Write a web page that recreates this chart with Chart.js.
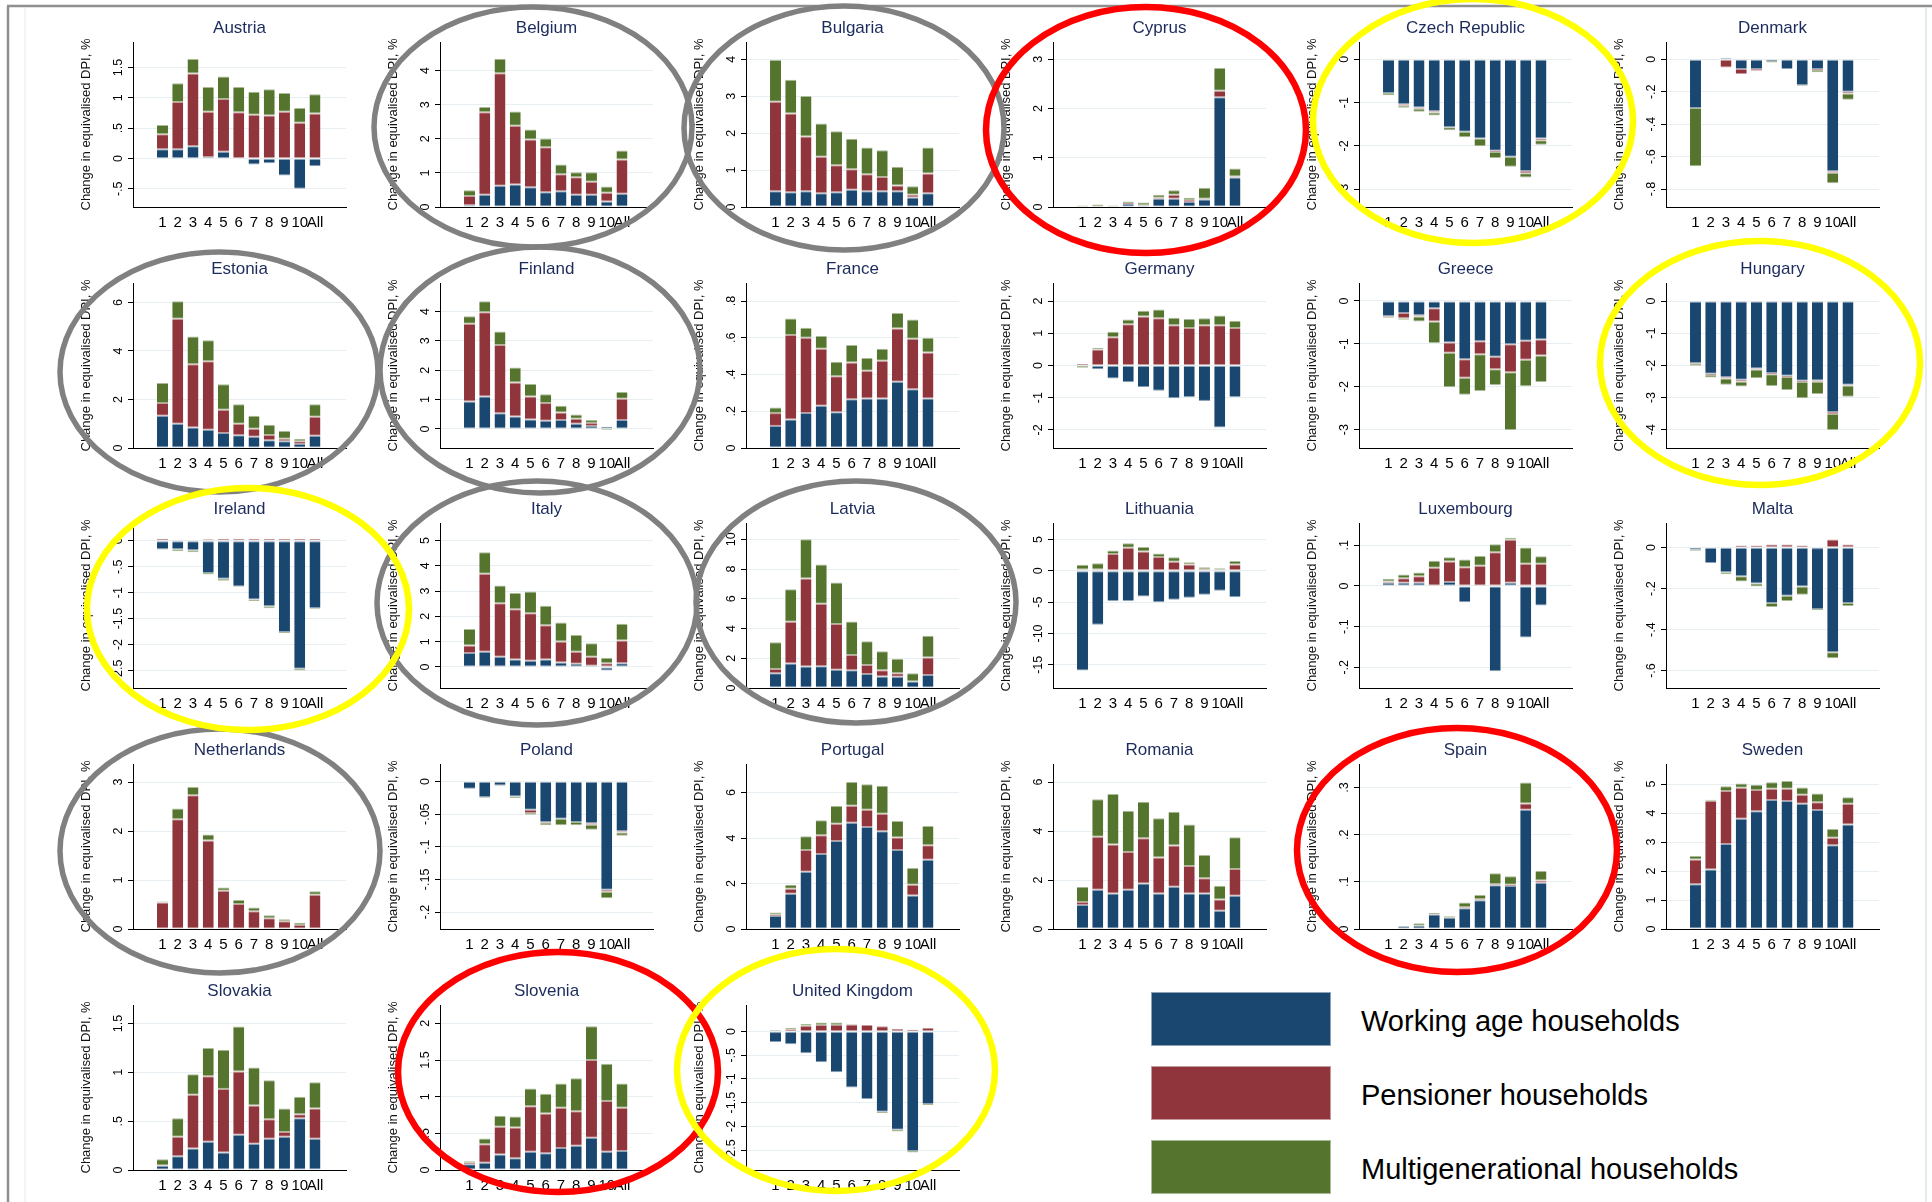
<!DOCTYPE html>
<html>
<head>
<meta charset="utf-8">
<script src="https://cdn.jsdelivr.net/npm/chart.js@4.4.1/dist/chart.umd.min.js"></script>
<style>
  html, body { margin: 0; padding: 0; background: #fff; }
  #page { position: relative; width: 1932px; height: 1202px; overflow: hidden; background: #fff; }
  #page canvas { position: absolute; }
  #marks { position: absolute; left: 0; top: 0; pointer-events: none; }
  .key { position: absolute; left: 1151px; width: 180px; height: 54px; box-sizing: border-box; }
  .keytext { position: absolute; left: 1361px; font: 29px 'Liberation Sans', Arial, sans-serif; color: #000; line-height: 54px; white-space: nowrap; }
</style>
</head>
<body>
<div id="page"></div>
<script>
const countries = ['Austria', 'Belgium', 'Bulgaria', 'Cyprus', 'Czech Republic', 'Denmark',
  'Estonia', 'Finland', 'France', 'Germany', 'Greece', 'Hungary',
  'Ireland', 'Italy', 'Latvia', 'Lithuania', 'Luxembourg', 'Malta',
  'Netherlands', 'Poland', 'Portugal', 'Romania', 'Spain', 'Sweden',
  'Slovakia', 'Slovenia', 'United Kingdom'];
const deciles = ['1', '2', '3', '4', '5', '6', '7', '8', '9', '10', 'All'];
const seriesNames = ['Working age households', 'Pensioner households', 'Multigenerational households'];
const yTitle = 'Change in equivalised DPI, %';

// one row per country, one value per decile
const working = [
  [0.15, 0.15, 0.2, 0.02, 0.11, 0.0, -0.1, -0.08, -0.28, -0.5, -0.13],
  [0.05, 0.36, 0.62, 0.66, 0.58, 0.43, 0.46, 0.36, 0.36, 0.16, 0.39],
  [0.43, 0.4, 0.43, 0.37, 0.4, 0.47, 0.43, 0.43, 0.43, 0.26, 0.37],
  [0.01, 0.01, 0.01, 0.06, 0.03, 0.17, 0.17, 0.1, 0.15, 2.23, 0.6],
  [-0.78, -1.04, -1.11, -1.2, -1.57, -1.67, -1.83, -2.11, -2.25, -2.58, -1.83],
  [-0.3, 0, 0.01, -0.06, -0.06, -0.01, -0.06, -0.16, -0.06, -0.69, -0.2],
  [1.33, 1.0, 0.85, 0.75, 0.62, 0.53, 0.46, 0.32, 0.28, 0.16, 0.5],
  [0.93, 1.1, 0.53, 0.42, 0.32, 0.28, 0.3, 0.18, 0.1, 0.07, 0.3],
  [0.12, 0.155, 0.19, 0.23, 0.195, 0.265, 0.27, 0.27, 0.36, 0.32, 0.27],
  [0, -0.12, -0.4, -0.52, -0.67, -0.78, -1.02, -0.98, -1.1, -1.92, -0.98],
  [-0.35, -0.28, -0.33, -0.17, -0.97, -1.36, -0.94, -1.3, -1.01, -0.93, -0.9],
  [-1.93, -2.26, -2.37, -2.45, -2.1, -2.24, -2.32, -2.48, -2.47, -3.45, -2.6],
  [-0.16, -0.16, -0.18, -0.62, -0.73, -0.88, -1.13, -1.26, -1.76, -2.47, -1.3],
  [0.55, 0.6, 0.4, 0.3, 0.25, 0.3, 0.18, 0.13, 0.05, -0.14, 0.15],
  [1.0, 1.65, 1.45, 1.47, 1.22, 1.2, 0.95, 0.77, 0.75, 0.43, 0.87],
  [-15.9, -8.6, -4.8, -4.8, -4.1, -5.0, -4.6, -4.3, -3.8, -3.2, -4.2],
  [0.008, 0.008, 0.008, 0, 0.01, -0.04, -0.001, -0.21, 0.008, -0.127, -0.048],
  [-0.01, -0.075, -0.12, -0.14, -0.175, -0.27, -0.235, -0.19, -0.3, -0.51, -0.27],
  [0, 0, 0, 0, 0, 0, 0, 0, 0, 0, 0],
  [-0.011, -0.024, -0.006, -0.023, -0.043, -0.062, -0.057, -0.062, -0.064, -0.166, -0.076],
  [0.57, 1.55, 2.52, 3.3, 3.87, 4.68, 4.49, 4.3, 3.48, 1.47, 3.05],
  [0.98, 1.6, 1.45, 1.6, 1.86, 1.45, 1.73, 1.45, 1.45, 0.75, 1.36],
  [0, 0.006, 0.007, 0.031, 0.024, 0.044, 0.061, 0.093, 0.091, 0.253, 0.098],
  [1.54, 2.05, 2.93, 3.8, 4.06, 4.45, 4.41, 4.32, 4.1, 2.89, 3.6],
  [0.04, 0.14, 0.22, 0.29, 0.18, 0.36, 0.27, 0.32, 0.34, 0.53, 0.32],
  [0.08, 0.1, 0.21, 0.16, 0.25, 0.23, 0.3, 0.33, 0.44, 0.25, 0.26],
  [-0.22, -0.27, -0.46, -0.65, -0.86, -1.18, -1.42, -1.69, -2.07, -2.52, -1.53]
];
const pensioner = [
  [0.25, 0.78, 1.2, 0.75, 0.87, 0.76, 0.72, 0.71, 0.77, 0.59, 0.74],
  [0.27, 2.42, 3.3, 1.72, 1.4, 1.32, 0.5, 0.51, 0.38, 0.26, 1.0],
  [2.42, 2.13, 1.48, 0.99, 0.73, 0.55, 0.46, 0.38, 0.15, 0.07, 0.54],
  [0, 0.01, 0, 0.02, 0.01, 0.02, 0.08, 0.04, 0.02, 0.13, 0.02],
  [0.02, -0.03, -0.03, -0.03, 0.02, 0.02, 0.02, -0.03, 0.02, -0.05, -0.04],
  [0, 0, -0.05, -0.03, -0.01, 0, 0, 0, -0.005, -0.01, -0.01],
  [0.52, 4.33, 2.6, 2.83, 0.96, 0.47, 0.33, 0.22, 0.1, 0.12, 0.79],
  [2.65, 2.87, 2.33, 1.16, 0.78, 0.6, 0.26, 0.17, 0.1, -0.01, 0.73],
  [0.07, 0.46, 0.41, 0.31, 0.195, 0.2, 0.15, 0.205, 0.29, 0.275, 0.25],
  [0.05, 0.5, 0.88, 1.28, 1.52, 1.47, 1.25, 1.16, 1.25, 1.25, 1.16],
  [-0.02, -0.12, -0.03, -0.31, -0.24, -0.43, -0.3, -0.29, -0.65, -0.44, -0.37],
  [-0.02, -0.04, -0.04, -0.05, -0.03, -0.04, -0.04, -0.04, -0.04, -0.06, -0.03],
  [0.04, 0.02, 0.01, 0.03, 0.04, 0.04, 0.04, 0.04, 0.04, 0.04, 0.04],
  [0.3, 3.08, 2.12, 1.98, 1.87, 1.35, 0.83, 0.47, 0.35, 0.15, 0.9],
  [0.27, 2.8, 5.92, 4.2, 3.08, 1.02, 0.6, 0.43, 0.25, 0, 1.18],
  [0.2, 0.2, 2.7, 3.7, 3.1, 2.2, 1.45, 1.0, 0.25, 0.15, 1.0],
  [0.003, 0.011, 0.016, 0.045, 0.05, 0.046, 0.05, 0.083, 0.106, 0.055, 0.055],
  [0, 0, 0, 0.01, 0.01, 0.015, 0.015, 0.01, 0, 0.04, 0.015],
  [0.54, 2.24, 2.73, 1.81, 0.78, 0.51, 0.36, 0.22, 0.16, 0.08, 0.7],
  [0, 0, 0, 0, -0.005, -0.001, 0, 0, -0.002, -0.003, -0.002],
  [0.06, 0.22, 0.96, 0.83, 0.76, 0.74, 0.76, 0.77, 0.55, 0.48, 0.64],
  [0.12, 2.17, 2.0, 1.55, 1.85, 1.47, 1.68, 1.12, 0.62, 0.45, 1.09],
  [0, 0, 0, 0.001, 0, 0.002, 0.002, 0.002, 0.003, 0.013, 0.005],
  [0.86, 2.37, 1.83, 1.07, 0.73, 0.39, 0.43, 0.31, 0.27, 0.26, 0.72],
  [0.005, 0.2, 0.55, 0.67, 0.65, 0.65, 0.39, 0.2, 0.05, 0.04, 0.31],
  [0.02, 0.25, 0.38, 0.42, 0.62, 0.54, 0.55, 0.47, 1.06, 0.69, 0.59],
  [0.01, 0.05, 0.12, 0.14, 0.14, 0.15, 0.14, 0.11, 0.06, 0.04, 0.08]
];
const multigen = [
  [0.15, 0.31, 0.24, 0.41, 0.37, 0.42, 0.38, 0.43, 0.31, 0.24, 0.32],
  [0.17, 0.15, 0.43, 0.42, 0.29, 0.26, 0.29, 0.15, 0.28, 0.18, 0.27],
  [1.13, 0.92, 1.1, 0.9, 0.92, 0.83, 0.72, 0.73, 0.51, 0.23, 0.7],
  [0.02, 0.03, 0.02, 0.03, 0.05, 0.06, 0.09, 0.05, 0.22, 0.46, 0.16],
  [-0.05, -0.05, -0.07, -0.07, -0.07, -0.13, -0.18, -0.14, -0.23, -0.1, -0.1],
  [-0.36, -0.005, 0, 0, 0, -0.01, 0, -0.005, -0.015, -0.065, -0.04],
  [0.83, 0.72, 1.15, 0.86, 1.05, 0.8, 0.54, 0.42, 0.32, 0.1, 0.51],
  [0.26, 0.38, 0.46, 0.51, 0.43, 0.3, 0.23, 0.14, 0.1, -0.03, 0.23],
  [0.03, 0.09, 0.055, 0.07, 0.08, 0.095, 0.07, 0.065, 0.085, 0.105, 0.08],
  [-0.07, 0.04, 0.17, 0.15, 0.18, 0.27, 0.23, 0.28, 0.22, 0.3, 0.23],
  [-0.02, -0.04, -0.12, -0.5, -0.8, -0.4, -0.86, -0.37, -1.35, -0.62, -0.62],
  [-0.06, -0.08, -0.19, -0.16, -0.27, -0.36, -0.41, -0.5, -0.38, -0.5, -0.35],
  [-0.01, -0.04, -0.04, -0.03, -0.04, -0.01, -0.03, -0.04, -0.02, -0.03, -0.02],
  [0.65, 0.85, 0.7, 0.64, 0.86, 0.77, 0.75, 0.66, 0.54, 0.22, 0.66],
  [1.8, 2.2, 2.63, 2.63, 2.8, 2.25, 1.6, 1.27, 0.97, 0.57, 1.47],
  [0.75, 1.0, 0.55, 0.7, 0.7, 0.55, 0.7, 0.35, 0.3, 0.25, 0.55],
  [0.007, 0.009, 0.009, 0.017, 0.011, 0.019, 0.024, 0.02, 0.005, 0.04, 0.018],
  [-0.005, 0, -0.01, -0.025, -0.015, -0.02, -0.025, -0.04, -0.005, -0.03, -0.015],
  [0.02, 0.22, 0.17, 0.12, 0.07, 0.08, 0.08, 0.06, 0.04, 0.05, 0.07],
  [0, -0.001, -0.001, -0.002, -0.003, -0.004, -0.01, -0.005, -0.008, -0.01, -0.005],
  [0.1, 0.18, 0.6, 0.66, 0.78, 1.05, 1.12, 1.23, 0.72, 0.73, 0.84],
  [0.62, 1.53, 2.06, 1.68, 1.49, 1.6, 1.38, 1.7, 0.95, 0.57, 1.3],
  [0, 0, 0.005, 0.002, 0.003, 0.01, 0.009, 0.023, 0.018, 0.045, 0.02],
  [0.12, 0.04, 0.16, 0.15, 0.18, 0.22, 0.26, 0.25, 0.3, 0.3, 0.22],
  [0.065, 0.19, 0.21, 0.29, 0.4, 0.46, 0.39, 0.4, 0.24, 0.18, 0.27],
  [0.02, 0.08, 0.15, 0.15, 0.24, 0.27, 0.33, 0.45, 0.46, 0.51, 0.33],
  [0.02, 0.03, 0.04, 0.05, 0.05, 0.01, 0, -0.03, -0.04, -0.03, -0.02]
];

// y axis range and labelled ticks, per country
const yLimits = [
  [-0.8, 1.92], [0, 4.84], [0, 4.47], [0, 3.35], [-3.41, 0.4], [-0.911, 0.107],
  [0, 6.8], [-0.65, 4.97], [0, 0.898], [-2.56, 2.56], [-3.43, 0.42], [-4.57, 0.56],
  [-2.84, 0.345], [-0.83, 5.69], [0, 11.1], [-18.7, 7.63], [-0.251, 0.155], [-0.685, 0.12],
  [0, 3.37], [-0.226, 0.027], [0, 7.26], [0, 6.74], [0, 0.35], [0, 5.69],
  [0, 1.69], [0, 2.25], [-2.92, 0.56]
];
const yTicks = [
  [-0.5, 0, 0.5, 1, 1.5], [0, 1, 2, 3, 4], [0, 1, 2, 3, 4], [0, 1, 2, 3], [-3, -2, -1, 0], [-0.8, -0.6, -0.4, -0.2, 0],
  [0, 2, 4, 6], [0, 1, 2, 3, 4], [0, 0.2, 0.4, 0.6, 0.8], [-2, -1, 0, 1, 2], [-3, -2, -1, 0], [-4, -3, -2, -1, 0],
  [-2.5, -2, -1.5, -1, -0.5, 0], [0, 1, 2, 3, 4, 5], [0, 2, 4, 6, 8, 10], [-15, -10, -5, 0, 5], [-0.2, -0.1, 0, 0.1], [-0.6, -0.4, -0.2, 0],
  [0, 1, 2, 3], [-0.2, -0.15, -0.1, -0.05, 0], [0, 2, 4, 6], [0, 2, 4, 6], [0, 0.1, 0.2, 0.3], [0, 1, 2, 3, 4, 5],
  [0, 0.5, 1, 1.5], [0, 0.5, 1, 1.5, 2], [-2.5, -2, -1.5, -1, -0.5, 0]
];

const fills = ['#1a476f', '#90353b', '#55752f'];
const edges = ['#8ca3b7', '#c79a9d', '#aabb97'];
const family = "'Liberation Sans', Arial, sans-serif";
const page = document.getElementById('page');

// stata style numbers: .5, -.05
const fmt = v => (+Number(v).toFixed(4)).toString().replace(/^(-?)0\./, '$1.');

const measure = document.createElement('canvas').getContext('2d');
measure.font = '12.5px ' + family;

const colStep = 306.6, rowStep = 240.7;
const plotW = 213, plotH = 165, leftW = 61, topH = 32, bottomH = 30;

countries.forEach((name, k) => {
  const col = k % 6, row = Math.floor(k / 6);
  const axisX = 133 + col * colStep;
  const plotTop = 42 + row * rowStep;

  const cv = document.createElement('canvas');
  cv.width = leftW + plotW + 6;
  cv.height = topH + plotH + bottomH;
  cv.style.left = Math.round(axisX - leftW) + 'px';
  cv.style.top = Math.round(plotTop - topH) + 'px';
  page.appendChild(cv);

  const widest = Math.max(...yTicks[k].map(v => measure.measureText(fmt(v)).width));
  const series = [working[k], pensioner[k], multigen[k]];

  new Chart(cv, {
    type: 'bar',
    data: {
      datasets: series.map((vals, s) => ({
        label: seriesNames[s],
        data: vals.map((v, i) => ({ x: i + 1, y: v })),
        backgroundColor: fills[s],
        borderColor: edges[s],
        borderWidth: { top: 1, bottom: 1, left: 0, right: 0 },
        borderSkipped: false,
        barPercentage: 0.72,
        categoryPercentage: 1
      }))
    },
    options: {
      responsive: false,
      animation: false,
      devicePixelRatio: 1,
      layout: { padding: { left: 0, right: 6, top: 0, bottom: 0 } },
      plugins: {
        legend: { display: false },
        tooltip: { enabled: false },
        title: {
          display: true,
          fullSize: false,
          text: name,
          color: '#1c2b5c',
          font: { family: family, size: 17, weight: 'normal', lineHeight: 1.2 },
          padding: { top: 8, bottom: 3.6 }
        }
      },
      scales: {
        x: {
          type: 'linear',
          stacked: true,
          min: -0.3,
          max: 12.4,
          afterBuildTicks: s => { s.ticks = deciles.map((d, i) => ({ value: i + 1 })); },
          afterFit: s => { s.height = bottomH; },
          grid: { display: false, drawTicks: false },
          border: { display: true, color: '#000', width: 1 },
          ticks: {
            autoSkip: false, minRotation: 0, maxRotation: 0, padding: 7,
            color: '#000', font: { family: family, size: 15 },
            callback: v => deciles[v - 1]
          }
        },
        y: {
          stacked: true,
          min: yLimits[k][0],
          max: yLimits[k][1],
          afterBuildTicks: s => { s.ticks = yTicks[k].map(v => ({ value: v })); },
          afterFit: s => { s.width = leftW; },
          grid: { color: '#e8eff2', lineWidth: 1, drawTicks: true, tickLength: 5, tickColor: '#000' },
          border: { display: true, color: '#000', width: 1 },
          ticks: {
            minRotation: 90, maxRotation: 90, crossAlign: 'center',
            padding: 9 - widest / 2,
            color: '#000', font: { family: family, size: 12.5 },
            callback: v => fmt(v)
          },
          title: {
            display: true, text: yTitle, color: '#111',
            font: { family: family, size: 13 },
            padding: { top: 7, bottom: 0 }
          }
        }
      }
    }
  });
});

// legend
seriesNames.forEach((label, s) => {
  const top = 992 + s * 74;
  const box = document.createElement('div');
  box.className = 'key';
  box.style.top = top + 'px';
  box.style.background = fills[s];
  box.style.border = '1px solid ' + edges[s];
  page.appendChild(box);
  const txt = document.createElement('div');
  txt.className = 'keytext';
  txt.style.top = (top + 2) + 'px';
  txt.textContent = label;
  page.appendChild(txt);
});

// frame and hand-drawn highlight rings laid over the figure
const rings = [
  [533, 127, 159, 120, '#808080'], [844, 128, 160, 122, '#808080'], [219, 372, 159, 120, '#808080'],
  [540, 370, 160, 123, '#808080'], [537, 603, 160, 122, '#808080'], [856, 602, 160, 121, '#808080'],
  [220, 851, 160, 122, '#808080'],
  [1146, 130, 160, 123, '#ff0000'], [1457, 850, 160, 122, '#ff0000'], [558, 1072, 160, 120, '#ff0000'],
  [1473, 121, 160, 122, '#ffff00'], [1760, 363, 160, 122, '#ffff00'], [248, 609, 161, 121, '#ffff00'],
  [836, 1070, 159, 121, '#ffff00']
];
const ns = 'http://www.w3.org/2000/svg';
const svg = document.createElementNS(ns, 'svg');
svg.setAttribute('id', 'marks');
svg.setAttribute('width', 1932);
svg.setAttribute('height', 1202);
const line = (x1, y1, x2, y2, c, w) => {
  const l = document.createElementNS(ns, 'line');
  l.setAttribute('x1', x1); l.setAttribute('y1', y1);
  l.setAttribute('x2', x2); l.setAttribute('y2', y2);
  l.setAttribute('stroke', c); l.setAttribute('stroke-width', w);
  svg.appendChild(l);
};
line(25, 8, 25, 1202, '#e2ebef', 1);
line(1926, 8, 1926, 1202, '#dbe5ea', 1.5);
line(7, 6, 1932, 6, '#8f8f8f', 2.5);
line(8, 6, 8, 1202, '#8f8f8f', 2.5);
rings.forEach(([cx, cy, rx, ry, c]) => {
  const e = document.createElementNS(ns, 'ellipse');
  e.setAttribute('cx', cx); e.setAttribute('cy', cy);
  e.setAttribute('rx', rx); e.setAttribute('ry', ry);
  e.setAttribute('fill', 'none');
  e.setAttribute('stroke', c);
  e.setAttribute('stroke-width', c === '#808080' ? 5.5 : 6.5);
  svg.appendChild(e);
});
page.appendChild(svg);
</script>
</body>
</html>
